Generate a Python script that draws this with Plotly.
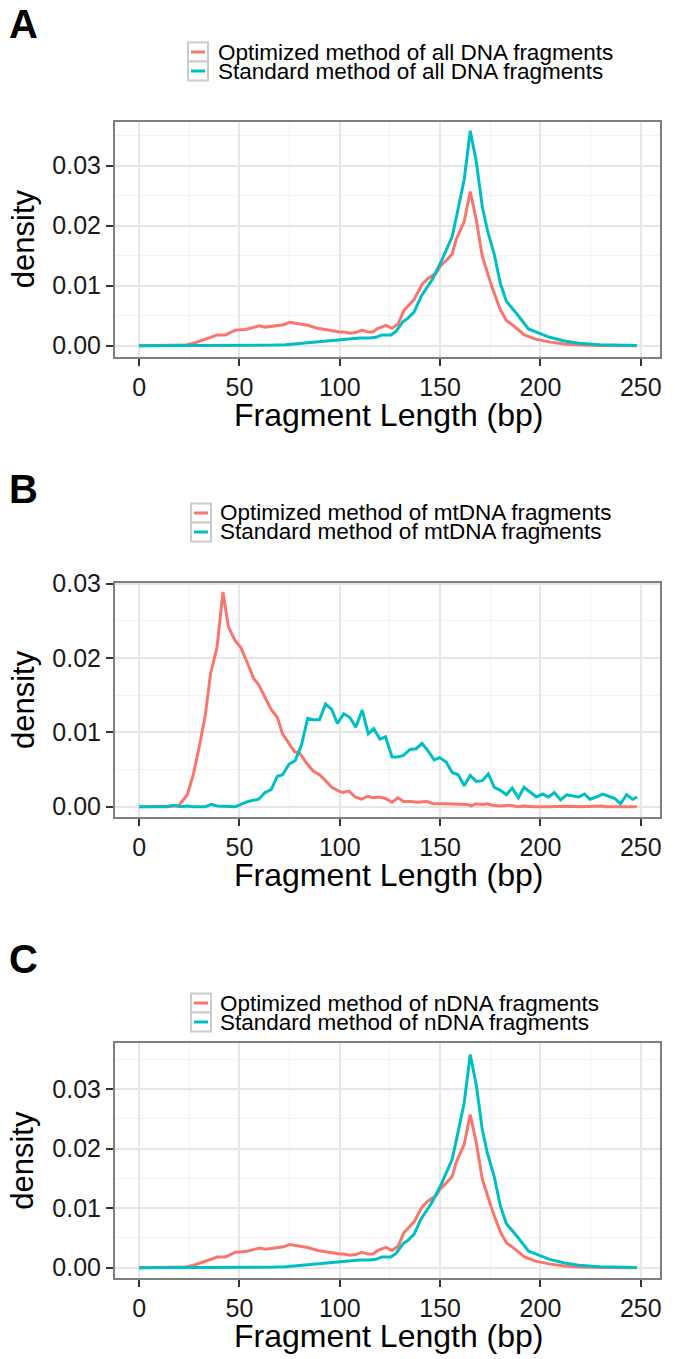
import plotly.graph_objects as go

W, H = 675, 1359

# ---------------- Panel A: all DNA fragments ----------------
len_opt_all = [0, 10, 20, 23, 28, 32, 36, 39, 43, 48, 53, 57, 60, 63, 66, 69, 72, 75, 78, 84, 89, 94,
               100, 102, 105, 108, 111, 114, 116.5, 119, 123, 126, 129, 132, 137, 141, 144, 148, 150,
               153, 156, 158, 162, 165, 168, 171, 173.5, 176, 180, 183, 187, 192, 197.5, 205, 212,
               220, 230, 248]
dens_opt_all = [0, 0, 0, 0.0001, 0.0005, 0.001, 0.0014, 0.0018, 0.0018, 0.0026, 0.0027, 0.003, 0.0033,
                0.0031, 0.0032, 0.0034, 0.0035, 0.0039, 0.0037, 0.0034, 0.0029, 0.0026, 0.0023, 0.0023,
                0.0021, 0.0022, 0.0026, 0.0023, 0.0023, 0.0029, 0.0034, 0.0029, 0.0036, 0.0059, 0.0077,
                0.0102, 0.0112, 0.0121, 0.0132, 0.0142, 0.0153, 0.0177, 0.0207, 0.0257, 0.021, 0.0149,
                0.0121, 0.0096, 0.006, 0.0042, 0.0032, 0.0018, 0.0011, 0.0006, 0.0003, 0.0001, 0.00003, 0]

len_std_all = [0, 30, 50, 60, 67, 73, 80, 90, 100, 105, 110, 115, 118, 121, 125.5, 128, 131.5, 134, 137,
               140.5, 143, 146, 150.5, 153, 156, 158.5, 162, 165, 168, 171, 173.5, 177, 180, 183, 188.5,
               194, 199, 204.5, 212, 219, 229.5, 240, 248]
dens_std_all = [0, 0, 0.00002, 0.00005, 0.0001, 0.00017, 0.0004, 0.0007, 0.001, 0.0011, 0.0013, 0.0013,
                0.0014, 0.0018, 0.0018, 0.0024, 0.004, 0.0046, 0.0056, 0.0082, 0.0095, 0.011, 0.014,
                0.016, 0.0182, 0.0221, 0.0277, 0.0358, 0.0307, 0.0232, 0.0193, 0.0152, 0.0104, 0.0074,
                0.0052, 0.0028, 0.0021, 0.0014, 0.0008, 0.0004, 0.00017, 0.00006, 0.00003]

# ---------------- Panel B: mtDNA fragments ----------------
len_opt_mt = [0, 10, 16, 19.6, 24, 27, 30, 33, 35.6, 38.8, 41.8, 44.5, 47.7, 50.7, 53.4, 57, 59.6, 62.3,
              65.8, 68.9, 71.5, 74.7, 77.4, 80, 83.6, 86.8, 89.9, 92.9, 96, 98.8, 101.4, 104.6, 107.7,
              110.9, 113.9, 116.5, 119.8, 122.8, 126, 129, 131.7, 135.2, 138.8, 143.2, 146.8, 153, 158.4,
              163.7, 165.5, 168, 171, 173.5, 176, 180, 185, 188.6, 192, 196, 204.6, 211.7, 220.6, 230.4,
              233, 248]
dens_opt_mt = [0, 0, 0, 0.0001, 0.0016, 0.0043, 0.0081, 0.0123, 0.0179, 0.0214, 0.0289, 0.0242, 0.0224,
               0.0214, 0.0197, 0.0173, 0.0164, 0.0149, 0.0131, 0.012, 0.0098, 0.0085, 0.0074, 0.0072,
               0.0058, 0.0048, 0.0043, 0.0035, 0.0026, 0.0022, 0.0019, 0.0021, 0.0013, 0.001, 0.0014,
               0.0012, 0.0013, 0.0011, 0.0006, 0.0012, 0.0007, 0.0007, 0.0006, 0.0007, 0.0004, 0.0004,
               0.0003, 0.0003, 0.0001, 0.0004, 0.0003, 0.0004, 0.0002, 0.0001, 0.0002, 0, 0.0001, 0, 0,
               0.00005, 0, 0.0001, 0, 0]

len_std_mt = [0, 14, 17.4, 21, 24, 27, 33, 36, 39, 41.8, 45.4, 48, 51.6, 54.3, 59.6, 62.8, 65.8, 68.9,
              71.5, 74.7, 77.8, 80.9, 84, 86.8, 89.9, 92.9, 96, 98.8, 102, 105, 108, 111.2, 114.2, 116.9,
              120, 122.8, 126, 129, 131.7, 135, 138, 141, 144, 147, 149.8, 153, 156, 159, 162, 165, 168,
              171, 174, 177, 180, 183, 185.9, 189, 191.8, 194.8, 197.9, 201, 204, 206.9, 210, 213, 216,
              218.9, 221.9, 224.7, 227.8, 231, 234, 237, 239.9, 242.9, 245.9, 248.2]
dens_std_mt = [0, 0, 0.0002, 0, 0.0001, 0, 0, 0.0003, 0.0001, 0.0001, 0, 0, 0.0004, 0.0007, 0.001, 0.0019,
               0.0023, 0.0041, 0.0043, 0.0057, 0.0062, 0.0083, 0.0119, 0.0117, 0.0117, 0.0138, 0.0131,
               0.0112, 0.0125, 0.012, 0.0107, 0.013, 0.0098, 0.0105, 0.0091, 0.0094, 0.0067, 0.0067,
               0.0069, 0.0077, 0.0078, 0.0085, 0.0075, 0.0063, 0.0066, 0.006, 0.0046, 0.0043, 0.0028,
               0.0042, 0.0034, 0.0035, 0.0044, 0.0026, 0.0022, 0.0016, 0.0025, 0.0012, 0.0026, 0.0019,
               0.0013, 0.0017, 0.0013, 0.0019, 0.0009, 0.0016, 0.0015, 0.0013, 0.0017, 0.001, 0.0013,
               0.0017, 0.0014, 0.0011, 0.0004, 0.0016, 0.001, 0.0013]

# ---------------- Panel C: nDNA fragments ----------------
len_opt_n = list(len_opt_all)
dens_opt_n = list(dens_opt_all)
len_std_n = list(len_std_all)
dens_std_n = list(dens_std_all)

x_ticks = [0, 50, 100, 150, 200, 250]
y_ticks = [0.0, 0.01, 0.02, 0.03]

panel_letters = ["A", "B", "C"]
legend_labels = [
    ["Optimized method of all DNA fragments", "Standard method of all DNA fragments"],
    ["Optimized method of mtDNA fragments", "Standard method of mtDNA fragments"],
    ["Optimized method of nDNA fragments", "Standard method of nDNA fragments"],
]
x_title = "Fragment Length (bp)"
y_title = "density"

RED = "#F8766D"
TEAL = "#00BFC4"
FONT = "Liberation Sans, Arial, Helvetica, sans-serif"

# ---------------- layout geometry (pixels) ----------------
plot_left, plot_right = 115, 659.5
panels = [
    dict(top=121.7, bottom=356.7, yr=[-0.00183, 0.03733], letter_top=-3, rows=[52, 71], key_x=188, text_x=216),
    dict(top=582.7, bottom=817.3, yr=[-0.00143, 0.03014], letter_top=465, rows=[513, 532], key_x=191, text_x=218),
    dict(top=1043.3, bottom=1278.3, yr=[-0.00178, 0.03768], letter_top=935, rows=[1003, 1022], key_x=191, text_x=218),
]
series = [
    (len_opt_all, dens_opt_all, len_std_all, dens_std_all),
    (len_opt_mt, dens_opt_mt, len_std_mt, dens_std_mt),
    (len_opt_n, dens_opt_n, len_std_n, dens_std_n),
]


def px(x):
    return x / W


def py(y):
    return 1 - y / H


fig = go.Figure()
annotations = []
shapes = []

for i, (p, s) in enumerate(zip(panels, series)):
    n = "" if i == 0 else str(i + 1)
    xa = "x" + n
    ya = "y" + n
    lo, do, ls, ds = s
    fig.add_trace(go.Scatter(x=lo, y=do, mode="lines", line=dict(color=RED, width=3),
                             xaxis=xa, yaxis=ya, name=legend_labels[i][0], showlegend=False))
    fig.add_trace(go.Scatter(x=ls, y=ds, mode="lines", line=dict(color=TEAL, width=3),
                             xaxis=xa, yaxis=ya, name=legend_labels[i][1], showlegend=False))

    common = dict(showline=True, linecolor="#7f7f7f", linewidth=2, mirror=True,
                  ticks="outside", ticklen=7, tickwidth=2, tickcolor="#333333",
                  showgrid=True, gridcolor="#e6e6e6", gridwidth=1.6, zeroline=False,
                  automargin=False,
                  tickfont=dict(family=FONT, size=25, color="#1a1a1a"))
    fig.update_layout(**{
        "xaxis" + n: dict(domain=[px(plot_left), px(plot_right)], range=[-12.0, 259.3],
                          tickvals=x_ticks, anchor=ya,
                          minor=dict(dtick=25, tick0=0, showgrid=True, gridcolor="#f3f3f3", gridwidth=1),
                          **common),
        "yaxis" + n: dict(domain=[py(p["bottom"]), py(p["top"])], range=p["yr"],
                          tickvals=y_ticks, tickformat=".2f", anchor=xa,
                          minor=dict(dtick=0.005, tick0=0, showgrid=True, gridcolor="#f3f3f3", gridwidth=1),
                          **common),
    })

    # panel letter
    annotations.append(dict(text="<b>%s</b>" % panel_letters[i], x=px(7), y=min(1.0, py(p["letter_top"])),
                            xref="paper", yref="paper", xanchor="left", yanchor="top",
                            showarrow=False, font=dict(family=FONT, size=40, color="black")))
    # axis titles
    annotations.append(dict(text=x_title, x=px((plot_left + plot_right) / 2 + 2), y=py(p["bottom"] + 58),
                            xref="paper", yref="paper", xanchor="center", yanchor="middle",
                            showarrow=False, font=dict(family=FONT, size=32, color="black")))
    annotations.append(dict(text=y_title, x=px(23), y=py((p["top"] + p["bottom"]) / 2),
                            xref="paper", yref="paper", xanchor="center", yanchor="middle",
                            textangle=-90, showarrow=False, font=dict(family=FONT, size=31, color="black")))
    # legend (keys + labels)
    kx = p["key_x"]
    for r, (ry, col) in enumerate(zip(p["rows"], [RED, TEAL])):
        shapes.append(dict(type="rect", xref="paper", yref="paper",
                           x0=px(kx), x1=px(kx + 20), y0=py(ry - 9.5), y1=py(ry + 9.5),
                           line=dict(color="#cccccc", width=2), fillcolor="white"))
        shapes.append(dict(type="line", xref="paper", yref="paper",
                           x0=px(kx + 3), x1=px(kx + 17), y0=py(ry), y1=py(ry),
                           line=dict(color=col, width=3)))
        annotations.append(dict(text=legend_labels[i][r], x=px(p["text_x"]), y=py(ry),
                                xref="paper", yref="paper", xanchor="left", yanchor="middle",
                                showarrow=False, font=dict(family=FONT, size=22.5, color="black")))

fig.update_layout(
    width=W, height=H,
    margin=dict(l=0, r=0, t=0, b=0, pad=0, autoexpand=False),
    paper_bgcolor="white", plot_bgcolor="white",
    showlegend=False,
    annotations=annotations, shapes=shapes,
)

fig.write_html("out.html",
               config={"displayModeBar": False},
               post_script="document.body.style.margin='0';document.body.style.overflow='hidden';")
